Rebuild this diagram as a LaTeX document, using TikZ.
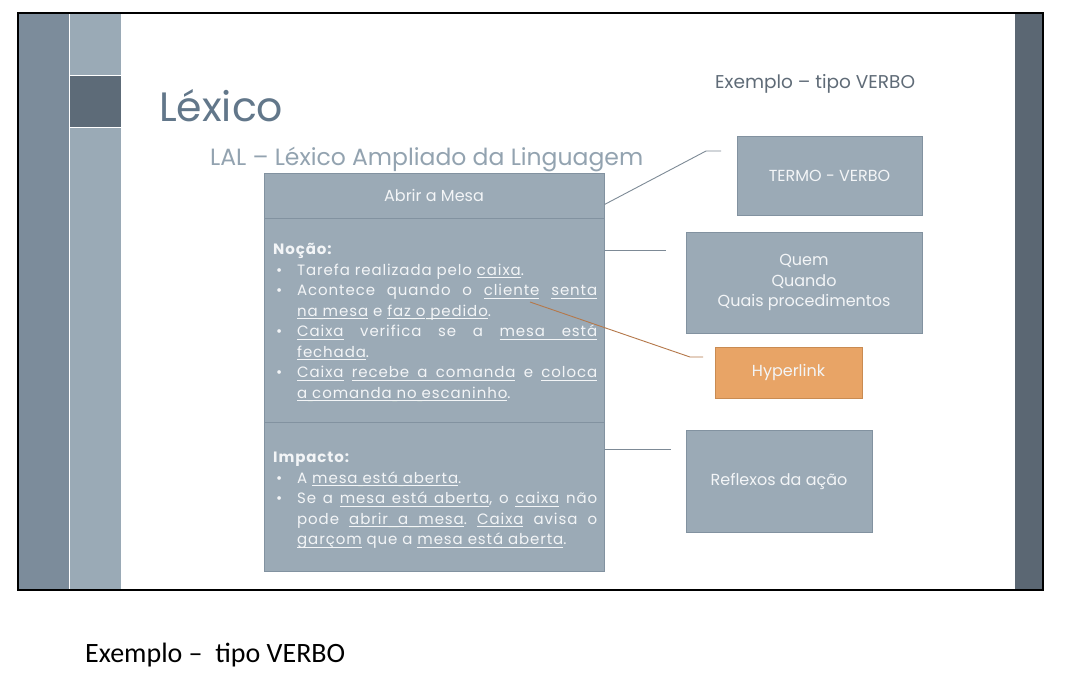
\documentclass[tikz,border=0pt]{standalone}
\usepackage{fontspec}
\setmainfont{Poppins}
\newfontfamily\bodyfont{Poppins}[LetterSpace=6]
\newfontfamily\capfont{Carlito}
\usetikzlibrary{calc}

\definecolor{bandA}{HTML}{7C8C9B}
\definecolor{bandB}{HTML}{9AAAB6}
\definecolor{bandDark}{HTML}{5D6B78}
\definecolor{bandRight}{HTML}{5B6773}
\definecolor{boxFill}{HTML}{9BAAB6}
\definecolor{boxLine}{HTML}{8292A0}
\definecolor{titleCol}{HTML}{62778A}
\definecolor{subCol}{HTML}{93A3B0}
\definecolor{noteCol}{HTML}{5F6B77}
\definecolor{linkFill}{HTML}{E8A466}
\definecolor{linkLine}{HTML}{C98B52}
\definecolor{wire}{HTML}{7D8A96}
\definecolor{wireOrange}{HTML}{B5784A}
\definecolor{txt}{HTML}{F3F5F7}

% underlined words: each word gets a rule, spaces between them get stretchable leaders
\newcommand{\ulrule}{\vrule height -2pt depth 3pt}
\newcommand{\ulword}[1]{\setbox0\hbox{#1}\rlap{\ulrule width\wd0}\box0\relax}
\newcommand{\ulspace}{\leaders\hbox{\ulrule width 0.1pt}\hskip\fontdimen2\font plus\fontdimen3\font minus\fontdimen4\font\relax}
\def\ulloop#1 #2\ulend{\ulword{#1}\if\relax\detokenize{#2}\relax\else\ulspace\ulloop#2\ulend\fi}
\newcommand{\ul}[1]{\ulloop#1 \ulend}

\newcommand{\bul}{\par\noindent\hangindent=24pt\hangafter=1\makebox[24pt][l]{\hspace{3pt}\textbullet}}

\begin{document}
\begin{tikzpicture}[x=1pt,y=-1pt,
  card/.style={draw=boxLine, line width=1pt, fill=boxFill, inner sep=0pt, text=txt,
    font=\fontsize{16}{20.5}\selectfont, align=center},
  linkcard/.style={card, draw=linkLine, fill=linkFill},
  body/.style={anchor=north west, inner sep=0pt, text width=324pt, align=justify, text=txt,
    font=\bodyfont\fontsize{15}{20.5}\selectfont\frenchspacing},
  wireline/.style={draw=wire, line width=0.9pt},
  orangeline/.style={draw=wireOrange, line width=0.9pt}]

\useasboundingbox (0,0) rectangle (1078,691);
\fill[white] (0,0) rectangle (1078,691);

% slide side bands
\fill[bandA] (18,13) rectangle (69,590);
\fill[bandB] (70,13) rectangle (121,590);
\fill[bandDark] (70,76) rectangle (121,127);
\draw[white, line width=1.2pt] (70,75.5) -- (121,75.5);
\draw[white, line width=1.2pt] (70,127.5) -- (121,127.5);
\draw[white, line width=1pt] (69.5,13) -- (69.5,590);
\fill[bandRight] (1015,13) rectangle (1043,590);

% slide frame
\draw[black, line width=2pt] (18,13) rectangle (1043,590);

% titles
\node[anchor=base west, inner sep=0pt, text=titleCol, font=\fontsize{41}{41}\selectfont]
  (title) at (159,121) {Léxico};
\node[anchor=base west, inner sep=0pt, text=subCol, font=\fontsize{23.5}{23.5}\selectfont]
  (subtitle) at (210,165) {LAL – Léxico Ampliado da Linguagem};
\node[anchor=base west, inner sep=0pt, text=noteCol, font=\fontsize{18.5}{18.5}\selectfont]
  (note) at (715,88) {Exemplo – tipo VERBO};

% main LAL card
\node[card, minimum width=340pt, minimum height=45pt] (head) at (434,195.5) {Abrir a Mesa};
\node[card, minimum width=340pt, minimum height=204pt] (nocao) at (434,320) {};
\node[card, minimum width=340pt, minimum height=149pt] (impacto) at (434,496.5) {};

\node[body] (nocaoText) at (273,243) {%
  \textbf{Noção:}
  \bul Tarefa realizada pelo \ul{caixa}.
  \bul Acontece quando o \ul{cliente} \ul{senta}\linebreak \ul{na mesa} e \ul{faz o pedido}.
  \bul \ul{Caixa} verifica se a \ul{mesa está}\linebreak \ul{fechada}.
  \bul \ul{Caixa} \ul{recebe a comanda} e \ul{coloca}\linebreak \ul{a comanda no escaninho}.\par};

\node[body] (impactoText) at (273,452) {%
  \textbf{Impacto:}
  \bul A \ul{mesa está aberta}.
  \bul Se a \ul{mesa está aberta}, o \ul{caixa} não\linebreak pode \ul{abrir a mesa}. \ul{Caixa} avisa o\linebreak \ul{garçom} que a \ul{mesa está aberta}.\par};

% explanation cards
\node[card, minimum width=185pt, minimum height=79pt] (termo) at (829.5,175.5) {TERMO - VERBO};
\node[card, minimum width=236pt, minimum height=101pt] (quem) at (804,282.5)
  {Quem\\Quando\\Quais procedimentos};
\node[linkcard, minimum width=147pt, minimum height=51pt] (link) at (788.5,372.5) {Hyperlink};
\node[card, minimum width=186pt, minimum height=102pt] (reflexos) at (779,481) {Reflexos da ação};

% connector ends
\coordinate (termoEnd) at (721,151);
\coordinate (quemEnd) at (666,250);
\coordinate (linkEnd) at (703,357);
\coordinate (reflexosEnd) at (671,449);
\coordinate (cliente) at (530,302);

\draw[wireline] ([yshift=-9pt]head.east) -- (706,151) -- (termoEnd);
\draw[wireline] (nocao.east |- quemEnd) -- (quemEnd);
\draw[wireline] (impacto.east |- reflexosEnd) -- (reflexosEnd);
\draw[orangeline] (cliente) -- (690,357) -- (linkEnd);

% caption
\node[anchor=base west, inner sep=0pt, text=black, font=\capfont\fontsize{28}{28}\selectfont]
  (caption) at (85,662) {Exemplo –\ \ tipo VERBO};
\end{tikzpicture}
\end{document}
